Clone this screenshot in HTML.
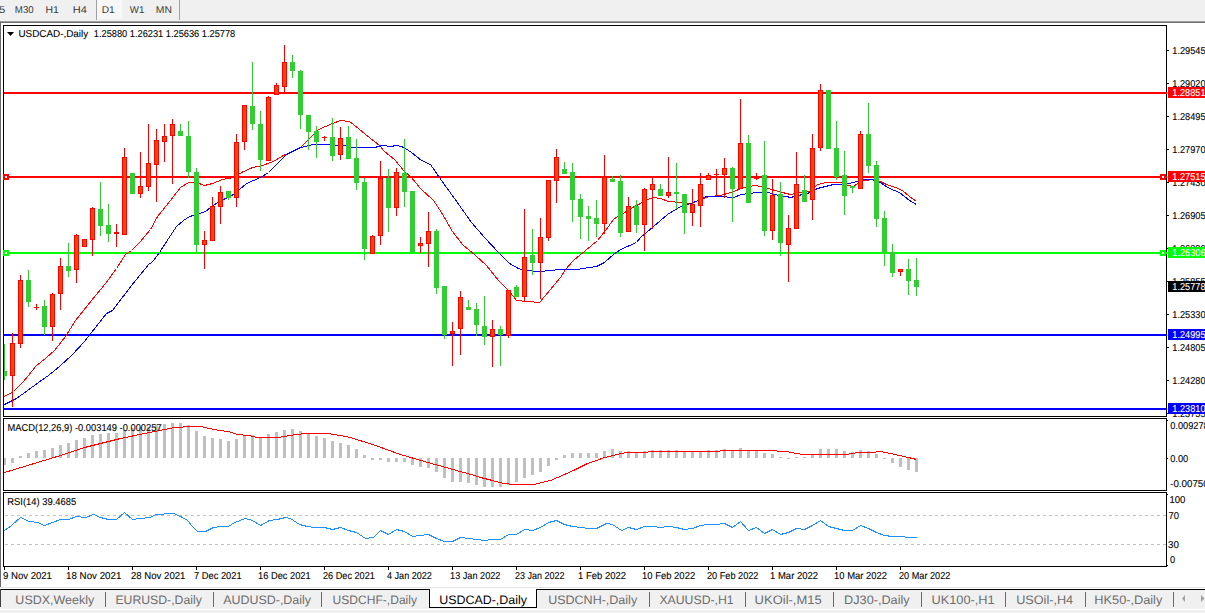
<!DOCTYPE html><html><head><meta charset="utf-8"><style>html,body{margin:0;padding:0;width:1205px;height:613px;overflow:hidden;background:#fff}svg{display:block}text{font-family:"Liberation Sans", sans-serif;text-rendering:geometricPrecision}</style></head><body>
<svg width="1205" height="613" viewBox="0 0 1205 613">
<rect x="0" y="0" width="1205" height="613" fill="#fff"/>
<rect x="0" y="0" width="1205" height="21" fill="#f0f0f0"/>
<rect x="0" y="21" width="1205" height="1" fill="#a0a0a0"/>
<rect x="0" y="22" width="1205" height="1" fill="#6d6d6d"/>
<rect x="97" y="0" width="25" height="19" fill="#f7f7f7"/>
<rect x="96" y="0" width="1" height="20" fill="#a0a0a0"/>
<rect x="179" y="0" width="1" height="20" fill="#a0a0a0"/>
<text x="14.83" y="13" font-size="10" fill="#3a3a3a" stroke="#3a3a3a" stroke-width="0" textLength="18.80" lengthAdjust="spacingAndGlyphs">M30</text>
<text x="45.45" y="13" font-size="10" fill="#3a3a3a" stroke="#3a3a3a" stroke-width="0" textLength="13.38" lengthAdjust="spacingAndGlyphs">H1</text>
<text x="72.80" y="13" font-size="10" fill="#3a3a3a" stroke="#3a3a3a" stroke-width="0" textLength="14.08" lengthAdjust="spacingAndGlyphs">H4</text>
<text x="101.78" y="13" font-size="10" fill="#3a3a3a" stroke="#3a3a3a" stroke-width="0" textLength="13.03" lengthAdjust="spacingAndGlyphs">D1</text>
<text x="129.80" y="13" font-size="10" fill="#3a3a3a" stroke="#3a3a3a" stroke-width="0" textLength="14.50" lengthAdjust="spacingAndGlyphs">W1</text>
<text x="155.76" y="13" font-size="10" fill="#3a3a3a" stroke="#3a3a3a" stroke-width="0" textLength="16.12" lengthAdjust="spacingAndGlyphs">MN</text>
<text x="-1.12" y="13" font-size="10" fill="#3a3a3a" stroke="#3a3a3a" stroke-width="0" textLength="6.26" lengthAdjust="spacingAndGlyphs">5</text>
<rect x="0" y="22" width="1" height="566" fill="#6a6a6a"/>
<defs><clipPath id="cm"><rect x="4" y="26" width="1162" height="390"/></clipPath><clipPath id="cd"><rect x="4" y="419" width="1162" height="71"/></clipPath><clipPath id="cr"><rect x="4" y="493" width="1162" height="73"/></clipPath></defs>
<g clip-path="url(#cm)">
<rect x="4" y="92" width="1163" height="2" fill="#ff0000"/>
<rect x="4" y="176" width="1163" height="2" fill="#ff0000"/>
<rect x="4" y="252" width="1163" height="2" fill="#00ff00"/>
<rect x="4" y="334" width="1163" height="2" fill="#0000ff"/>
<rect x="4" y="408" width="1163" height="2" fill="#0000ff"/>
<polyline points="4.5,396.5 13.5,391.5 23.5,381.5 36.5,365.5 45.5,358.5 54.5,350.5 65.5,336.5 75.5,320.5 91.5,300.5 105.5,283.5 116.5,268.5 125.5,254.5 131.5,250.5 140.5,241.5 150.5,229.5 157.5,216.5 170.5,200.5 180.5,187.5 188.5,182.5 196.5,182.5 204.5,185.5 212.5,183.5 222.5,179.5 233.5,177.5 241.5,172.5 252.5,167.5 262.5,165.5 273.5,161.5 283.5,155.5 300.5,147.5 309.5,138.5 318.5,129.5 332.5,123.5 340.5,120.5 349.5,121.5 358.5,128.5 365.5,134.5 374.5,141.5 379.5,145.5 384.5,151.5 394.5,159.5 404.5,171.5 411.5,177.5 420.5,188.5 433.5,200.5 441.5,212.5 452.5,231.5 462.5,244.5 475.5,255.5 486.5,265.5 498.5,280.5 509.5,291.5 516.5,300.5 539.5,302.5 560.5,277.5 565.5,269.5 573.5,260.5 585.5,250.5 597.5,240.5 605.5,230.5 613.5,219.5 617.5,216.5 626.5,211.5 632.5,207.5 640.5,203.5 647.5,199.5 653.5,197.5 660.5,198.5 668.5,201.5 680.5,202.5 690.5,203.5 698.5,200.5 709.5,196.5 720.5,195.5 730.5,192.5 744.5,187.5 754.5,185.5 760.5,186.5 768.5,188.5 778.5,191.5 790.5,194.5 801.5,192.5 810.5,191.5 817.5,184.5 826.5,182.5 841.5,182.5 848.5,185.5 853.5,186.5 857.5,183.5 864.5,180.5 874.5,179.5 880.5,181.5 886.5,184.5 895.5,187.5 902.5,190.5 909.5,196.5 916.5,201.5" fill="none" stroke="#ff0000" stroke-width="1" shape-rendering="crispEdges"/>
<polyline points="4.5,404.5 16.5,398.5 27.5,390.5 38.5,382.5 48.5,375.5 59.5,366.5 72.5,354.5 84.5,341.5 95.5,327.5 106.5,313.5 112.5,310.5 131.5,285.5 149.5,263.5 150.5,263.5 153.5,260.5 159.5,252.5 170.5,235.5 176.5,226.5 183.5,220.5 189.5,216.5 193.5,215.5 199.5,213.5 205.5,211.5 210.5,207.5 217.5,202.5 225.5,198.5 233.5,194.5 246.5,183.5 260.5,177.5 268.5,172.5 286.5,154.5 300.5,147.5 313.5,144.5 330.5,144.5 336.5,145.5 343.5,145.5 353.5,147.5 374.5,147.5 382.5,145.5 391.5,146.5 395.5,145.5 401.5,146.5 405.5,148.5 411.5,152.5 421.5,160.5 430.5,164.5 441.5,180.5 454.5,198.5 471.5,222.5 484.5,237.5 498.5,252.5 509.5,263.5 518.5,268.5 524.5,270.5 540.5,271.5 549.5,270.5 560.5,269.5 576.5,269.5 596.5,266.5 604.5,262.5 613.5,254.5 620.5,249.5 636.5,242.5 640.5,237.5 653.5,226.5 667.5,214.5 680.5,206.5 693.5,202.5 706.5,196.5 720.5,196.5 733.5,197.5 741.5,194.5 757.5,192.5 768.5,192.5 773.5,194.5 786.5,196.5 790.5,197.5 802.5,194.5 810.5,192.5 817.5,188.5 825.5,186.5 833.5,184.5 841.5,184.5 848.5,183.5 857.5,181.5 863.5,179.5 871.5,179.5 878.5,181.5 889.5,188.5 899.5,192.5 909.5,200.5 916.5,204.5" fill="none" stroke="#0000ff" stroke-width="1" shape-rendering="crispEdges"/>
<rect x="4" y="344" width="1" height="36" fill="#32cd32"/>
<rect x="2" y="371" width="5" height="5" fill="#32cd32"/>
<rect x="12" y="333" width="1" height="74" fill="#ff0000"/>
<rect x="10" y="343" width="5" height="33" fill="#ff0000"/>
<rect x="11" y="344" width="3" height="31" fill="#ff4500"/>
<rect x="20" y="275" width="1" height="73" fill="#ff0000"/>
<rect x="18" y="280" width="5" height="64" fill="#ff0000"/>
<rect x="19" y="281" width="3" height="62" fill="#ff4500"/>
<rect x="28" y="270" width="1" height="37" fill="#32cd32"/>
<rect x="26" y="280" width="5" height="22" fill="#32cd32"/>
<rect x="36" y="304" width="1" height="6" fill="#ff0000"/>
<rect x="34" y="307" width="5" height="1" fill="#ff0000"/>
<rect x="44" y="300" width="1" height="35" fill="#32cd32"/>
<rect x="42" y="306" width="5" height="21" fill="#32cd32"/>
<rect x="52" y="293" width="1" height="48" fill="#ff0000"/>
<rect x="50" y="294" width="5" height="33" fill="#ff0000"/>
<rect x="51" y="295" width="3" height="31" fill="#ff4500"/>
<rect x="60" y="258" width="1" height="52" fill="#ff0000"/>
<rect x="58" y="266" width="5" height="28" fill="#ff0000"/>
<rect x="59" y="267" width="3" height="26" fill="#ff4500"/>
<rect x="68" y="243" width="1" height="34" fill="#32cd32"/>
<rect x="66" y="266" width="5" height="5" fill="#32cd32"/>
<rect x="76" y="234" width="1" height="49" fill="#ff0000"/>
<rect x="74" y="235" width="5" height="35" fill="#ff0000"/>
<rect x="75" y="236" width="3" height="33" fill="#ff4500"/>
<rect x="84" y="239" width="1" height="8" fill="#ff0000"/>
<rect x="82" y="239" width="5" height="8" fill="#ff0000"/>
<rect x="83" y="240" width="3" height="6" fill="#ff4500"/>
<rect x="92" y="207" width="1" height="49" fill="#ff0000"/>
<rect x="90" y="208" width="5" height="32" fill="#ff0000"/>
<rect x="91" y="209" width="3" height="30" fill="#ff4500"/>
<rect x="100" y="182" width="1" height="54" fill="#32cd32"/>
<rect x="98" y="209" width="5" height="17" fill="#32cd32"/>
<rect x="108" y="204" width="1" height="38" fill="#32cd32"/>
<rect x="106" y="225" width="5" height="9" fill="#32cd32"/>
<rect x="116" y="224" width="1" height="23" fill="#ff0000"/>
<rect x="114" y="232" width="5" height="2" fill="#ff0000"/>
<rect x="124" y="148" width="1" height="87" fill="#ff0000"/>
<rect x="122" y="157" width="5" height="78" fill="#ff0000"/>
<rect x="123" y="158" width="3" height="76" fill="#ff4500"/>
<rect x="132" y="173" width="1" height="21" fill="#32cd32"/>
<rect x="130" y="173" width="5" height="21" fill="#32cd32"/>
<rect x="140" y="152" width="1" height="46" fill="#ff0000"/>
<rect x="138" y="186" width="5" height="8" fill="#ff0000"/>
<rect x="139" y="187" width="3" height="6" fill="#ff4500"/>
<rect x="148" y="124" width="1" height="67" fill="#ff0000"/>
<rect x="146" y="163" width="5" height="24" fill="#ff0000"/>
<rect x="147" y="164" width="3" height="22" fill="#ff4500"/>
<rect x="156" y="129" width="1" height="73" fill="#ff0000"/>
<rect x="154" y="140" width="5" height="25" fill="#ff0000"/>
<rect x="155" y="141" width="3" height="23" fill="#ff4500"/>
<rect x="164" y="124" width="1" height="38" fill="#ff0000"/>
<rect x="162" y="136" width="5" height="6" fill="#ff0000"/>
<rect x="163" y="137" width="3" height="4" fill="#ff4500"/>
<rect x="172" y="119" width="1" height="65" fill="#ff0000"/>
<rect x="170" y="124" width="5" height="12" fill="#ff0000"/>
<rect x="171" y="125" width="3" height="10" fill="#ff4500"/>
<rect x="180" y="124" width="1" height="12" fill="#32cd32"/>
<rect x="178" y="131" width="5" height="5" fill="#32cd32"/>
<rect x="188" y="121" width="1" height="57" fill="#32cd32"/>
<rect x="186" y="136" width="5" height="36" fill="#32cd32"/>
<rect x="196" y="168" width="1" height="85" fill="#32cd32"/>
<rect x="194" y="172" width="5" height="73" fill="#32cd32"/>
<rect x="204" y="231" width="1" height="38" fill="#ff0000"/>
<rect x="202" y="240" width="5" height="5" fill="#ff0000"/>
<rect x="203" y="241" width="3" height="3" fill="#ff4500"/>
<rect x="212" y="197" width="1" height="44" fill="#ff0000"/>
<rect x="210" y="206" width="5" height="35" fill="#ff0000"/>
<rect x="211" y="207" width="3" height="33" fill="#ff4500"/>
<rect x="220" y="186" width="1" height="38" fill="#ff0000"/>
<rect x="218" y="192" width="5" height="15" fill="#ff0000"/>
<rect x="219" y="193" width="3" height="13" fill="#ff4500"/>
<rect x="228" y="191" width="1" height="9" fill="#32cd32"/>
<rect x="226" y="191" width="5" height="7" fill="#32cd32"/>
<rect x="236" y="134" width="1" height="73" fill="#ff0000"/>
<rect x="234" y="142" width="5" height="56" fill="#ff0000"/>
<rect x="235" y="143" width="3" height="54" fill="#ff4500"/>
<rect x="244" y="105" width="1" height="45" fill="#ff0000"/>
<rect x="242" y="105" width="5" height="37" fill="#ff0000"/>
<rect x="243" y="106" width="3" height="35" fill="#ff4500"/>
<rect x="252" y="62" width="1" height="68" fill="#32cd32"/>
<rect x="250" y="106" width="5" height="18" fill="#32cd32"/>
<rect x="260" y="111" width="1" height="60" fill="#32cd32"/>
<rect x="258" y="124" width="5" height="36" fill="#32cd32"/>
<rect x="268" y="96" width="1" height="65" fill="#ff0000"/>
<rect x="266" y="97" width="5" height="64" fill="#ff0000"/>
<rect x="267" y="98" width="3" height="62" fill="#ff4500"/>
<rect x="276" y="83" width="1" height="12" fill="#ff0000"/>
<rect x="274" y="85" width="5" height="10" fill="#ff0000"/>
<rect x="275" y="86" width="3" height="8" fill="#ff4500"/>
<rect x="284" y="45" width="1" height="47" fill="#ff0000"/>
<rect x="282" y="62" width="5" height="25" fill="#ff0000"/>
<rect x="283" y="63" width="3" height="23" fill="#ff4500"/>
<rect x="292" y="55" width="1" height="23" fill="#32cd32"/>
<rect x="290" y="62" width="5" height="9" fill="#32cd32"/>
<rect x="300" y="70" width="1" height="59" fill="#32cd32"/>
<rect x="298" y="71" width="5" height="44" fill="#32cd32"/>
<rect x="308" y="115" width="1" height="35" fill="#32cd32"/>
<rect x="306" y="115" width="5" height="17" fill="#32cd32"/>
<rect x="316" y="126" width="1" height="32" fill="#32cd32"/>
<rect x="314" y="131" width="5" height="11" fill="#32cd32"/>
<rect x="324" y="136" width="1" height="5" fill="#ff0000"/>
<rect x="322" y="137" width="5" height="1" fill="#ff0000"/>
<rect x="332" y="118" width="1" height="43" fill="#32cd32"/>
<rect x="330" y="137" width="5" height="19" fill="#32cd32"/>
<rect x="340" y="127" width="1" height="33" fill="#ff0000"/>
<rect x="338" y="138" width="5" height="17" fill="#ff0000"/>
<rect x="339" y="139" width="3" height="15" fill="#ff4500"/>
<rect x="348" y="126" width="1" height="33" fill="#32cd32"/>
<rect x="346" y="137" width="5" height="22" fill="#32cd32"/>
<rect x="356" y="139" width="1" height="51" fill="#32cd32"/>
<rect x="354" y="158" width="5" height="25" fill="#32cd32"/>
<rect x="364" y="178" width="1" height="82" fill="#32cd32"/>
<rect x="362" y="182" width="5" height="67" fill="#32cd32"/>
<rect x="372" y="235" width="1" height="19" fill="#ff0000"/>
<rect x="370" y="236" width="5" height="18" fill="#ff0000"/>
<rect x="371" y="237" width="3" height="16" fill="#ff4500"/>
<rect x="380" y="161" width="1" height="84" fill="#ff0000"/>
<rect x="378" y="178" width="5" height="58" fill="#ff0000"/>
<rect x="379" y="179" width="3" height="56" fill="#ff4500"/>
<rect x="388" y="169" width="1" height="63" fill="#32cd32"/>
<rect x="386" y="178" width="5" height="30" fill="#32cd32"/>
<rect x="396" y="168" width="1" height="48" fill="#ff0000"/>
<rect x="394" y="172" width="5" height="36" fill="#ff0000"/>
<rect x="395" y="173" width="3" height="34" fill="#ff4500"/>
<rect x="404" y="139" width="1" height="68" fill="#32cd32"/>
<rect x="402" y="173" width="5" height="19" fill="#32cd32"/>
<rect x="412" y="191" width="1" height="61" fill="#32cd32"/>
<rect x="410" y="191" width="5" height="61" fill="#32cd32"/>
<rect x="420" y="237" width="1" height="16" fill="#ff0000"/>
<rect x="418" y="243" width="5" height="3" fill="#ff0000"/>
<rect x="419" y="244" width="3" height="1" fill="#ff4500"/>
<rect x="428" y="212" width="1" height="55" fill="#ff0000"/>
<rect x="426" y="231" width="5" height="13" fill="#ff0000"/>
<rect x="427" y="232" width="3" height="11" fill="#ff4500"/>
<rect x="436" y="229" width="1" height="65" fill="#32cd32"/>
<rect x="434" y="231" width="5" height="57" fill="#32cd32"/>
<rect x="444" y="286" width="1" height="53" fill="#32cd32"/>
<rect x="442" y="286" width="5" height="49" fill="#32cd32"/>
<rect x="452" y="322" width="1" height="44" fill="#ff0000"/>
<rect x="450" y="331" width="5" height="3" fill="#ff0000"/>
<rect x="451" y="332" width="3" height="1" fill="#ff4500"/>
<rect x="460" y="291" width="1" height="64" fill="#ff0000"/>
<rect x="458" y="297" width="5" height="32" fill="#ff0000"/>
<rect x="459" y="298" width="3" height="30" fill="#ff4500"/>
<rect x="468" y="300" width="1" height="10" fill="#32cd32"/>
<rect x="466" y="307" width="5" height="3" fill="#32cd32"/>
<rect x="476" y="303" width="1" height="33" fill="#32cd32"/>
<rect x="474" y="309" width="5" height="16" fill="#32cd32"/>
<rect x="484" y="296" width="1" height="49" fill="#32cd32"/>
<rect x="482" y="326" width="5" height="11" fill="#32cd32"/>
<rect x="492" y="320" width="1" height="47" fill="#ff0000"/>
<rect x="490" y="329" width="5" height="8" fill="#ff0000"/>
<rect x="491" y="330" width="3" height="6" fill="#ff4500"/>
<rect x="500" y="326" width="1" height="40" fill="#32cd32"/>
<rect x="498" y="329" width="5" height="6" fill="#32cd32"/>
<rect x="508" y="290" width="1" height="48" fill="#ff0000"/>
<rect x="506" y="290" width="5" height="46" fill="#ff0000"/>
<rect x="507" y="291" width="3" height="44" fill="#ff4500"/>
<rect x="516" y="285" width="1" height="12" fill="#32cd32"/>
<rect x="514" y="287" width="5" height="10" fill="#32cd32"/>
<rect x="524" y="209" width="1" height="93" fill="#ff0000"/>
<rect x="522" y="257" width="5" height="40" fill="#ff0000"/>
<rect x="523" y="258" width="3" height="38" fill="#ff4500"/>
<rect x="532" y="229" width="1" height="46" fill="#32cd32"/>
<rect x="530" y="255" width="5" height="8" fill="#32cd32"/>
<rect x="540" y="218" width="1" height="81" fill="#ff0000"/>
<rect x="538" y="237" width="5" height="26" fill="#ff0000"/>
<rect x="539" y="238" width="3" height="24" fill="#ff4500"/>
<rect x="548" y="180" width="1" height="61" fill="#ff0000"/>
<rect x="546" y="180" width="5" height="58" fill="#ff0000"/>
<rect x="547" y="181" width="3" height="56" fill="#ff4500"/>
<rect x="556" y="149" width="1" height="54" fill="#ff0000"/>
<rect x="554" y="157" width="5" height="24" fill="#ff0000"/>
<rect x="555" y="158" width="3" height="22" fill="#ff4500"/>
<rect x="564" y="162" width="1" height="12" fill="#32cd32"/>
<rect x="562" y="169" width="5" height="5" fill="#32cd32"/>
<rect x="572" y="163" width="1" height="59" fill="#32cd32"/>
<rect x="570" y="172" width="5" height="28" fill="#32cd32"/>
<rect x="580" y="194" width="1" height="45" fill="#32cd32"/>
<rect x="578" y="199" width="5" height="18" fill="#32cd32"/>
<rect x="588" y="206" width="1" height="35" fill="#32cd32"/>
<rect x="586" y="216" width="5" height="3" fill="#32cd32"/>
<rect x="596" y="200" width="1" height="37" fill="#32cd32"/>
<rect x="594" y="218" width="5" height="6" fill="#32cd32"/>
<rect x="604" y="155" width="1" height="79" fill="#ff0000"/>
<rect x="602" y="177" width="5" height="47" fill="#ff0000"/>
<rect x="603" y="178" width="3" height="45" fill="#ff4500"/>
<rect x="612" y="176" width="1" height="6" fill="#32cd32"/>
<rect x="610" y="179" width="5" height="3" fill="#32cd32"/>
<rect x="620" y="175" width="1" height="62" fill="#32cd32"/>
<rect x="618" y="181" width="5" height="52" fill="#32cd32"/>
<rect x="628" y="197" width="1" height="35" fill="#ff0000"/>
<rect x="626" y="206" width="5" height="26" fill="#ff0000"/>
<rect x="627" y="207" width="3" height="24" fill="#ff4500"/>
<rect x="636" y="200" width="1" height="33" fill="#32cd32"/>
<rect x="634" y="206" width="5" height="19" fill="#32cd32"/>
<rect x="644" y="188" width="1" height="63" fill="#ff0000"/>
<rect x="642" y="189" width="5" height="36" fill="#ff0000"/>
<rect x="643" y="190" width="3" height="34" fill="#ff4500"/>
<rect x="652" y="178" width="1" height="51" fill="#ff0000"/>
<rect x="650" y="184" width="5" height="6" fill="#ff0000"/>
<rect x="651" y="185" width="3" height="4" fill="#ff4500"/>
<rect x="660" y="184" width="1" height="12" fill="#32cd32"/>
<rect x="658" y="189" width="5" height="7" fill="#32cd32"/>
<rect x="668" y="157" width="1" height="41" fill="#ff0000"/>
<rect x="666" y="192" width="5" height="4" fill="#ff0000"/>
<rect x="667" y="193" width="3" height="2" fill="#ff4500"/>
<rect x="676" y="163" width="1" height="46" fill="#32cd32"/>
<rect x="674" y="192" width="5" height="2" fill="#32cd32"/>
<rect x="684" y="194" width="1" height="40" fill="#32cd32"/>
<rect x="682" y="194" width="5" height="19" fill="#32cd32"/>
<rect x="692" y="189" width="1" height="37" fill="#ff0000"/>
<rect x="690" y="204" width="5" height="9" fill="#ff0000"/>
<rect x="691" y="205" width="3" height="7" fill="#ff4500"/>
<rect x="700" y="173" width="1" height="54" fill="#ff0000"/>
<rect x="698" y="184" width="5" height="22" fill="#ff0000"/>
<rect x="699" y="185" width="3" height="20" fill="#ff4500"/>
<rect x="708" y="173" width="1" height="7" fill="#ff0000"/>
<rect x="706" y="175" width="5" height="5" fill="#ff0000"/>
<rect x="707" y="176" width="3" height="3" fill="#ff4500"/>
<rect x="716" y="169" width="1" height="27" fill="#ff0000"/>
<rect x="714" y="174" width="5" height="1" fill="#ff0000"/>
<rect x="724" y="158" width="1" height="40" fill="#ff0000"/>
<rect x="722" y="168" width="5" height="7" fill="#ff0000"/>
<rect x="723" y="169" width="3" height="5" fill="#ff4500"/>
<rect x="732" y="167" width="1" height="55" fill="#32cd32"/>
<rect x="730" y="168" width="5" height="21" fill="#32cd32"/>
<rect x="740" y="99" width="1" height="90" fill="#ff0000"/>
<rect x="738" y="143" width="5" height="46" fill="#ff0000"/>
<rect x="739" y="144" width="3" height="44" fill="#ff4500"/>
<rect x="748" y="135" width="1" height="68" fill="#32cd32"/>
<rect x="746" y="143" width="5" height="60" fill="#32cd32"/>
<rect x="756" y="173" width="1" height="7" fill="#ff0000"/>
<rect x="754" y="177" width="5" height="2" fill="#ff0000"/>
<rect x="764" y="141" width="1" height="95" fill="#32cd32"/>
<rect x="762" y="175" width="5" height="56" fill="#32cd32"/>
<rect x="772" y="179" width="1" height="61" fill="#ff0000"/>
<rect x="770" y="195" width="5" height="36" fill="#ff0000"/>
<rect x="771" y="196" width="3" height="34" fill="#ff4500"/>
<rect x="780" y="182" width="1" height="74" fill="#32cd32"/>
<rect x="778" y="194" width="5" height="49" fill="#32cd32"/>
<rect x="788" y="215" width="1" height="67" fill="#ff0000"/>
<rect x="786" y="228" width="5" height="17" fill="#ff0000"/>
<rect x="787" y="229" width="3" height="15" fill="#ff4500"/>
<rect x="796" y="152" width="1" height="77" fill="#ff0000"/>
<rect x="794" y="184" width="5" height="45" fill="#ff0000"/>
<rect x="795" y="185" width="3" height="43" fill="#ff4500"/>
<rect x="804" y="175" width="1" height="27" fill="#32cd32"/>
<rect x="802" y="190" width="5" height="12" fill="#32cd32"/>
<rect x="812" y="134" width="1" height="86" fill="#ff0000"/>
<rect x="810" y="148" width="5" height="52" fill="#ff0000"/>
<rect x="811" y="149" width="3" height="50" fill="#ff4500"/>
<rect x="820" y="84" width="1" height="67" fill="#ff0000"/>
<rect x="818" y="90" width="5" height="58" fill="#ff0000"/>
<rect x="819" y="91" width="3" height="56" fill="#ff4500"/>
<rect x="828" y="90" width="1" height="59" fill="#32cd32"/>
<rect x="826" y="90" width="5" height="59" fill="#32cd32"/>
<rect x="836" y="121" width="1" height="59" fill="#32cd32"/>
<rect x="834" y="148" width="5" height="29" fill="#32cd32"/>
<rect x="844" y="151" width="1" height="64" fill="#32cd32"/>
<rect x="842" y="175" width="5" height="21" fill="#32cd32"/>
<rect x="852" y="186" width="1" height="7" fill="#32cd32"/>
<rect x="850" y="186" width="5" height="2" fill="#32cd32"/>
<rect x="860" y="131" width="1" height="58" fill="#ff0000"/>
<rect x="858" y="134" width="5" height="55" fill="#ff0000"/>
<rect x="859" y="135" width="3" height="53" fill="#ff4500"/>
<rect x="868" y="103" width="1" height="70" fill="#32cd32"/>
<rect x="866" y="134" width="5" height="32" fill="#32cd32"/>
<rect x="876" y="161" width="1" height="66" fill="#32cd32"/>
<rect x="874" y="165" width="5" height="54" fill="#32cd32"/>
<rect x="884" y="211" width="1" height="55" fill="#32cd32"/>
<rect x="882" y="218" width="5" height="34" fill="#32cd32"/>
<rect x="892" y="244" width="1" height="33" fill="#32cd32"/>
<rect x="890" y="252" width="5" height="21" fill="#32cd32"/>
<rect x="900" y="269" width="1" height="7" fill="#ff0000"/>
<rect x="898" y="269" width="5" height="3" fill="#ff0000"/>
<rect x="899" y="270" width="3" height="1" fill="#ff4500"/>
<rect x="908" y="259" width="1" height="36" fill="#32cd32"/>
<rect x="906" y="269" width="5" height="12" fill="#32cd32"/>
<rect x="916" y="258" width="1" height="38" fill="#32cd32"/>
<rect x="914" y="280" width="5" height="7" fill="#32cd32"/>
</g>
<rect x="3" y="25" width="1164" height="1" fill="#000"/>
<rect x="3" y="416" width="1164" height="1" fill="#000"/>
<rect x="3" y="25" width="1" height="392" fill="#000"/>
<rect x="1166" y="25" width="1" height="392" fill="#000"/>
<rect x="1166" y="92" width="1" height="2" fill="#ff0000"/>
<rect x="1166" y="176" width="1" height="2" fill="#ff0000"/>
<rect x="1166" y="252" width="1" height="2" fill="#00ff00"/>
<rect x="1166" y="334" width="1" height="2" fill="#0000ff"/>
<rect x="1166" y="408" width="1" height="2" fill="#0000ff"/>
<rect x="3" y="174" width="6" height="6" fill="#ff0000"/>
<rect x="5" y="176" width="2" height="2" fill="#fff"/>
<rect x="1160" y="174" width="6" height="6" fill="#ff0000"/>
<rect x="1162" y="176" width="2" height="2" fill="#fff"/>
<rect x="3" y="250" width="6" height="6" fill="#00ff00"/>
<rect x="5" y="252" width="2" height="2" fill="#fff"/>
<rect x="1160" y="250" width="6" height="6" fill="#00ff00"/>
<rect x="1162" y="252" width="2" height="2" fill="#fff"/>
<path d="M7 32 L14 32 L10.5 36 Z" fill="#000"/>
<text x="18.41" y="37" font-size="10" fill="#000" stroke="#000" stroke-width="0.1" textLength="69.74" lengthAdjust="spacingAndGlyphs">USDCAD-,Daily</text>
<text x="93.77" y="37" font-size="10" fill="#000" stroke="#000" stroke-width="0.1" textLength="141.49" lengthAdjust="spacingAndGlyphs">1.25880 1.26231 1.25636 1.25778</text>
<rect x="1167" y="50" width="2" height="1" fill="#000"/>
<text x="1172.3" y="54" font-size="10" fill="#000" stroke="#000" stroke-width="0.1" textLength="33.2" lengthAdjust="spacingAndGlyphs">1.29545</text>
<rect x="1167" y="83" width="2" height="1" fill="#000"/>
<text x="1172.3" y="87" font-size="10" fill="#000" stroke="#000" stroke-width="0.1" textLength="33.2" lengthAdjust="spacingAndGlyphs">1.29020</text>
<rect x="1167" y="116" width="2" height="1" fill="#000"/>
<text x="1172.3" y="120" font-size="10" fill="#000" stroke="#000" stroke-width="0.1" textLength="33.2" lengthAdjust="spacingAndGlyphs">1.28495</text>
<rect x="1167" y="149" width="2" height="1" fill="#000"/>
<text x="1172.3" y="153" font-size="10" fill="#000" stroke="#000" stroke-width="0.1" textLength="33.2" lengthAdjust="spacingAndGlyphs">1.27970</text>
<rect x="1167" y="182" width="2" height="1" fill="#000"/>
<text x="1172.3" y="186" font-size="10" fill="#000" stroke="#000" stroke-width="0.1" textLength="33.2" lengthAdjust="spacingAndGlyphs">1.27430</text>
<rect x="1167" y="215" width="2" height="1" fill="#000"/>
<text x="1172.3" y="219" font-size="10" fill="#000" stroke="#000" stroke-width="0.1" textLength="33.2" lengthAdjust="spacingAndGlyphs">1.26905</text>
<rect x="1167" y="248" width="2" height="1" fill="#000"/>
<text x="1172.3" y="252" font-size="10" fill="#000" stroke="#000" stroke-width="0.1" textLength="33.2" lengthAdjust="spacingAndGlyphs">1.26380</text>
<rect x="1167" y="281" width="2" height="1" fill="#000"/>
<text x="1172.3" y="285" font-size="10" fill="#000" stroke="#000" stroke-width="0.1" textLength="33.2" lengthAdjust="spacingAndGlyphs">1.25855</text>
<rect x="1167" y="314" width="2" height="1" fill="#000"/>
<text x="1172.3" y="318" font-size="10" fill="#000" stroke="#000" stroke-width="0.1" textLength="33.2" lengthAdjust="spacingAndGlyphs">1.25330</text>
<rect x="1167" y="347" width="2" height="1" fill="#000"/>
<text x="1172.3" y="351" font-size="10" fill="#000" stroke="#000" stroke-width="0.1" textLength="33.2" lengthAdjust="spacingAndGlyphs">1.24805</text>
<rect x="1167" y="380" width="2" height="1" fill="#000"/>
<text x="1172.3" y="384" font-size="10" fill="#000" stroke="#000" stroke-width="0.1" textLength="33.2" lengthAdjust="spacingAndGlyphs">1.24280</text>
<rect x="1167" y="413" width="2" height="1" fill="#000"/>
<text x="1172.3" y="417" font-size="10" fill="#000" stroke="#000" stroke-width="0.1" textLength="33.2" lengthAdjust="spacingAndGlyphs">1.23755</text>
<rect x="1168" y="87" width="37" height="11" fill="#ff0000"/>
<text x="1172.3" y="96" font-size="10" fill="#fff" stroke="#fff" stroke-width="0.1" textLength="33.2" lengthAdjust="spacingAndGlyphs">1.28851</text>
<rect x="1168" y="171" width="37" height="11" fill="#ff0000"/>
<text x="1172.3" y="180" font-size="10" fill="#fff" stroke="#fff" stroke-width="0.1" textLength="33.2" lengthAdjust="spacingAndGlyphs">1.27515</text>
<rect x="1168" y="247" width="37" height="11" fill="#00ff00"/>
<text x="1172.3" y="256" font-size="10" fill="#fff" stroke="#fff" stroke-width="0.1" textLength="33.2" lengthAdjust="spacingAndGlyphs">1.26306</text>
<rect x="1168" y="329" width="37" height="11" fill="#0000ff"/>
<text x="1172.3" y="338" font-size="10" fill="#fff" stroke="#fff" stroke-width="0.1" textLength="33.2" lengthAdjust="spacingAndGlyphs">1.24995</text>
<rect x="1168" y="403" width="37" height="11" fill="#0000ff"/>
<text x="1172.3" y="412" font-size="10" fill="#fff" stroke="#fff" stroke-width="0.1" textLength="33.2" lengthAdjust="spacingAndGlyphs">1.23810</text>
<rect x="1168" y="281" width="37" height="11" fill="#000"/>
<text x="1172.3" y="290" font-size="10" fill="#fff" stroke="#fff" stroke-width="0.1" textLength="33.2" lengthAdjust="spacingAndGlyphs">1.25778</text>
<g clip-path="url(#cd)">
<rect x="3" y="458" width="3" height="7" fill="#c0c0c0"/>
<rect x="11" y="458" width="3" height="5" fill="#c0c0c0"/>
<rect x="19" y="456" width="3" height="2" fill="#c0c0c0"/>
<rect x="27" y="453" width="3" height="5" fill="#c0c0c0"/>
<rect x="35" y="451" width="3" height="7" fill="#c0c0c0"/>
<rect x="43" y="450" width="3" height="8" fill="#c0c0c0"/>
<rect x="51" y="448" width="3" height="10" fill="#c0c0c0"/>
<rect x="59" y="445" width="3" height="13" fill="#c0c0c0"/>
<rect x="67" y="443" width="3" height="15" fill="#c0c0c0"/>
<rect x="75" y="440" width="3" height="18" fill="#c0c0c0"/>
<rect x="83" y="438" width="3" height="20" fill="#c0c0c0"/>
<rect x="91" y="435" width="3" height="23" fill="#c0c0c0"/>
<rect x="99" y="434" width="3" height="24" fill="#c0c0c0"/>
<rect x="107" y="433" width="3" height="25" fill="#c0c0c0"/>
<rect x="115" y="433" width="3" height="25" fill="#c0c0c0"/>
<rect x="123" y="430" width="3" height="28" fill="#c0c0c0"/>
<rect x="131" y="428" width="3" height="30" fill="#c0c0c0"/>
<rect x="139" y="427" width="3" height="31" fill="#c0c0c0"/>
<rect x="147" y="427" width="3" height="31" fill="#c0c0c0"/>
<rect x="155" y="425" width="3" height="33" fill="#c0c0c0"/>
<rect x="163" y="424" width="3" height="34" fill="#c0c0c0"/>
<rect x="171" y="423" width="3" height="35" fill="#c0c0c0"/>
<rect x="179" y="423" width="3" height="35" fill="#c0c0c0"/>
<rect x="187" y="425" width="3" height="33" fill="#c0c0c0"/>
<rect x="195" y="431" width="3" height="27" fill="#c0c0c0"/>
<rect x="203" y="436" width="3" height="22" fill="#c0c0c0"/>
<rect x="211" y="438" width="3" height="20" fill="#c0c0c0"/>
<rect x="219" y="439" width="3" height="19" fill="#c0c0c0"/>
<rect x="227" y="441" width="3" height="17" fill="#c0c0c0"/>
<rect x="235" y="439" width="3" height="19" fill="#c0c0c0"/>
<rect x="243" y="436" width="3" height="22" fill="#c0c0c0"/>
<rect x="251" y="435" width="3" height="23" fill="#c0c0c0"/>
<rect x="259" y="437" width="3" height="21" fill="#c0c0c0"/>
<rect x="267" y="434" width="3" height="24" fill="#c0c0c0"/>
<rect x="275" y="432" width="3" height="26" fill="#c0c0c0"/>
<rect x="283" y="430" width="3" height="28" fill="#c0c0c0"/>
<rect x="291" y="429" width="3" height="29" fill="#c0c0c0"/>
<rect x="299" y="431" width="3" height="27" fill="#c0c0c0"/>
<rect x="307" y="434" width="3" height="24" fill="#c0c0c0"/>
<rect x="315" y="436" width="3" height="22" fill="#c0c0c0"/>
<rect x="323" y="438" width="3" height="20" fill="#c0c0c0"/>
<rect x="331" y="441" width="3" height="17" fill="#c0c0c0"/>
<rect x="339" y="443" width="3" height="15" fill="#c0c0c0"/>
<rect x="347" y="445" width="3" height="13" fill="#c0c0c0"/>
<rect x="355" y="449" width="3" height="9" fill="#c0c0c0"/>
<rect x="363" y="455" width="3" height="3" fill="#c0c0c0"/>
<rect x="371" y="458" width="3" height="2" fill="#c0c0c0"/>
<rect x="379" y="458" width="3" height="2" fill="#c0c0c0"/>
<rect x="387" y="458" width="3" height="4" fill="#c0c0c0"/>
<rect x="395" y="458" width="3" height="4" fill="#c0c0c0"/>
<rect x="403" y="458" width="3" height="4" fill="#c0c0c0"/>
<rect x="411" y="458" width="3" height="7" fill="#c0c0c0"/>
<rect x="419" y="458" width="3" height="9" fill="#c0c0c0"/>
<rect x="427" y="458" width="3" height="10" fill="#c0c0c0"/>
<rect x="435" y="458" width="3" height="14" fill="#c0c0c0"/>
<rect x="443" y="458" width="3" height="20" fill="#c0c0c0"/>
<rect x="451" y="458" width="3" height="24" fill="#c0c0c0"/>
<rect x="459" y="458" width="3" height="24" fill="#c0c0c0"/>
<rect x="467" y="458" width="3" height="25" fill="#c0c0c0"/>
<rect x="475" y="458" width="3" height="27" fill="#c0c0c0"/>
<rect x="483" y="458" width="3" height="29" fill="#c0c0c0"/>
<rect x="491" y="458" width="3" height="29" fill="#c0c0c0"/>
<rect x="499" y="458" width="3" height="29" fill="#c0c0c0"/>
<rect x="507" y="458" width="3" height="27" fill="#c0c0c0"/>
<rect x="515" y="458" width="3" height="24" fill="#c0c0c0"/>
<rect x="523" y="458" width="3" height="20" fill="#c0c0c0"/>
<rect x="531" y="458" width="3" height="17" fill="#c0c0c0"/>
<rect x="539" y="458" width="3" height="14" fill="#c0c0c0"/>
<rect x="547" y="458" width="3" height="8" fill="#c0c0c0"/>
<rect x="555" y="458" width="3" height="2" fill="#c0c0c0"/>
<rect x="563" y="455" width="3" height="3" fill="#c0c0c0"/>
<rect x="571" y="453" width="3" height="5" fill="#c0c0c0"/>
<rect x="579" y="453" width="3" height="5" fill="#c0c0c0"/>
<rect x="587" y="453" width="3" height="5" fill="#c0c0c0"/>
<rect x="595" y="453" width="3" height="5" fill="#c0c0c0"/>
<rect x="603" y="451" width="3" height="7" fill="#c0c0c0"/>
<rect x="611" y="449" width="3" height="9" fill="#c0c0c0"/>
<rect x="619" y="451" width="3" height="7" fill="#c0c0c0"/>
<rect x="627" y="451" width="3" height="7" fill="#c0c0c0"/>
<rect x="635" y="453" width="3" height="5" fill="#c0c0c0"/>
<rect x="643" y="451" width="3" height="7" fill="#c0c0c0"/>
<rect x="651" y="450" width="3" height="8" fill="#c0c0c0"/>
<rect x="659" y="450" width="3" height="8" fill="#c0c0c0"/>
<rect x="667" y="450" width="3" height="8" fill="#c0c0c0"/>
<rect x="675" y="450" width="3" height="8" fill="#c0c0c0"/>
<rect x="683" y="451" width="3" height="7" fill="#c0c0c0"/>
<rect x="691" y="451" width="3" height="7" fill="#c0c0c0"/>
<rect x="699" y="451" width="3" height="7" fill="#c0c0c0"/>
<rect x="707" y="450" width="3" height="8" fill="#c0c0c0"/>
<rect x="715" y="450" width="3" height="8" fill="#c0c0c0"/>
<rect x="723" y="449" width="3" height="9" fill="#c0c0c0"/>
<rect x="731" y="450" width="3" height="8" fill="#c0c0c0"/>
<rect x="739" y="448" width="3" height="10" fill="#c0c0c0"/>
<rect x="747" y="450" width="3" height="8" fill="#c0c0c0"/>
<rect x="755" y="450" width="3" height="8" fill="#c0c0c0"/>
<rect x="763" y="453" width="3" height="5" fill="#c0c0c0"/>
<rect x="771" y="454" width="3" height="4" fill="#c0c0c0"/>
<rect x="779" y="457" width="3" height="1" fill="#c0c0c0"/>
<rect x="787" y="458" width="3" height="1" fill="#c0c0c0"/>
<rect x="795" y="457" width="3" height="1" fill="#c0c0c0"/>
<rect x="803" y="457" width="3" height="1" fill="#c0c0c0"/>
<rect x="811" y="455" width="3" height="3" fill="#c0c0c0"/>
<rect x="819" y="449" width="3" height="9" fill="#c0c0c0"/>
<rect x="827" y="449" width="3" height="9" fill="#c0c0c0"/>
<rect x="835" y="449" width="3" height="9" fill="#c0c0c0"/>
<rect x="843" y="451" width="3" height="7" fill="#c0c0c0"/>
<rect x="851" y="452" width="3" height="6" fill="#c0c0c0"/>
<rect x="859" y="450" width="3" height="8" fill="#c0c0c0"/>
<rect x="867" y="451" width="3" height="7" fill="#c0c0c0"/>
<rect x="875" y="454" width="3" height="4" fill="#c0c0c0"/>
<rect x="883" y="458" width="3" height="1" fill="#c0c0c0"/>
<rect x="891" y="458" width="3" height="5" fill="#c0c0c0"/>
<rect x="899" y="458" width="3" height="9" fill="#c0c0c0"/>
<rect x="907" y="458" width="3" height="12" fill="#c0c0c0"/>
<rect x="915" y="458" width="3" height="14" fill="#c0c0c0"/>
<polyline points="4.5,472.5 14.5,469.5 37.5,462.5 60.5,455.5 84.5,447.5 100.5,443.5 120.5,438.5 149.5,432.5 174.5,427.5 180.5,427.5 185.5,426.5 200.5,426.5 209.5,428.5 219.5,430.5 228.5,431.5 237.5,434.5 248.5,435.5 257.5,437.5 278.5,437.5 289.5,435.5 305.5,433.5 327.5,433.5 340.5,435.5 350.5,437.5 375.5,445.5 400.5,454.5 424.5,461.5 449.5,468.5 474.5,475.5 480.5,477.5 492.5,480.5 503.5,483.5 514.5,484.5 533.5,484.5 550.5,480.5 564.5,474.5 573.5,470.5 587.5,463.5 596.5,460.5 604.5,457.5 613.5,455.5 620.5,453.5 623.5,453.5 624.5,452.5 647.5,452.5 648.5,451.5 719.5,451.5 720.5,450.5 776.5,450.5 777.5,451.5 786.5,451.5 791.5,452.5 802.5,454.5 846.5,454.5 857.5,452.5 871.5,452.5 880.5,451.5 890.5,453.5 908.5,457.5 916.5,459.5" fill="none" stroke="#ff0000" stroke-width="1" shape-rendering="crispEdges"/>
</g>
<rect x="3" y="418" width="1164" height="1" fill="#000"/>
<rect x="3" y="490" width="1164" height="1" fill="#000"/>
<rect x="3" y="418" width="1" height="73" fill="#000"/>
<rect x="1166" y="418" width="1" height="73" fill="#000"/>
<text x="7.57" y="431" font-size="10" fill="#000" stroke="#000" stroke-width="0.1" textLength="154.03" lengthAdjust="spacingAndGlyphs">MACD(12,26,9) -0.003149 -0.000257</text>
<rect x="1167" y="458" width="1" height="1" fill="#000"/>
<rect x="1167" y="420" width="1" height="1" fill="#000"/>
<text x="1170.2" y="429" font-size="10" fill="#000" stroke="#000" stroke-width="0.1" textLength="38.5" lengthAdjust="spacingAndGlyphs">0.009278</text>
<text x="1170.20" y="462" font-size="10" fill="#000" stroke="#000" stroke-width="0.1" textLength="18.03" lengthAdjust="spacingAndGlyphs">0.00</text>
<text x="1170.2" y="487" font-size="10" fill="#000" stroke="#000" stroke-width="0.1" textLength="38.5" lengthAdjust="spacingAndGlyphs">-0.00750</text>
<g clip-path="url(#cr)">
<line x1="5" y1="515.5" x2="1166" y2="515.5" stroke="#c0c0c0" stroke-width="1" stroke-dasharray="3,3"/>
<line x1="5" y1="544.5" x2="1166" y2="544.5" stroke="#c0c0c0" stroke-width="1" stroke-dasharray="3,3"/>
<polyline points="4.5,530.5 11.5,525.5 20.5,517.5 29.5,521.5 37.5,522.5 44.5,525.5 52.5,522.5 60.5,519.5 68.5,519.5 76.5,516.5 85.5,517.5 93.5,514.5 100.5,517.5 108.5,519.5 116.5,519.5 124.5,512.5 132.5,519.5 140.5,518.5 149.5,517.5 156.5,514.5 160.5,514.5 168.5,513.5 173.5,513.5 180.5,516.5 187.5,520.5 192.5,526.5 197.5,531.5 205.5,531.5 213.5,527.5 220.5,526.5 228.5,526.5 234.5,522.5 245.5,518.5 252.5,520.5 260.5,525.5 269.5,520.5 277.5,519.5 285.5,517.5 290.5,518.5 299.5,524.5 307.5,526.5 314.5,527.5 324.5,527.5 332.5,529.5 340.5,527.5 348.5,530.5 356.5,532.5 365.5,538.5 373.5,537.5 380.5,530.5 388.5,534.5 396.5,529.5 404.5,531.5 412.5,536.5 420.5,535.5 428.5,534.5 436.5,538.5 444.5,541.5 452.5,541.5 460.5,537.5 468.5,538.5 476.5,539.5 484.5,540.5 492.5,539.5 500.5,539.5 508.5,534.5 516.5,534.5 524.5,529.5 532.5,530.5 540.5,527.5 548.5,522.5 556.5,520.5 564.5,524.5 572.5,526.5 580.5,527.5 588.5,528.5 596.5,528.5 606.5,523.5 612.5,524.5 621.5,530.5 628.5,527.5 636.5,529.5 644.5,526.5 652.5,526.5 660.5,527.5 668.5,526.5 676.5,527.5 684.5,529.5 692.5,528.5 700.5,525.5 708.5,524.5 716.5,524.5 724.5,523.5 732.5,527.5 740.5,521.5 748.5,530.5 756.5,527.5 764.5,533.5 772.5,529.5 780.5,534.5 788.5,532.5 796.5,528.5 804.5,529.5 812.5,525.5 820.5,520.5 828.5,526.5 836.5,528.5 844.5,530.5 852.5,530.5 860.5,525.5 868.5,528.5 876.5,532.5 884.5,535.5 892.5,536.5 900.5,536.5 908.5,537.5 916.5,537.5" fill="none" stroke="#1e90ff" stroke-width="1" shape-rendering="crispEdges"/>
</g>
<rect x="3" y="492" width="1164" height="1" fill="#000"/>
<rect x="3" y="566" width="1164" height="1" fill="#000"/>
<rect x="3" y="492" width="1" height="75" fill="#000"/>
<rect x="1166" y="492" width="1" height="75" fill="#000"/>
<text x="7.26" y="505" font-size="10" fill="#000" stroke="#000" stroke-width="0.1" textLength="68.91" lengthAdjust="spacingAndGlyphs">RSI(14) 39.4685</text>
<text x="1169.44" y="503" font-size="10" fill="#000" stroke="#000" stroke-width="0.1" textLength="16.02" lengthAdjust="spacingAndGlyphs">100</text>
<text x="1168.56" y="519" font-size="10" fill="#000" stroke="#000" stroke-width="0.1" textLength="10.46" lengthAdjust="spacingAndGlyphs">70</text>
<text x="1168.12" y="548" font-size="10" fill="#000" stroke="#000" stroke-width="0.1" textLength="10.90" lengthAdjust="spacingAndGlyphs">30</text>
<text x="1170.10" y="563" font-size="10" fill="#000" stroke="#000" stroke-width="0.1" textLength="5.12" lengthAdjust="spacingAndGlyphs">0</text>
<rect x="1167" y="494" width="1" height="1" fill="#000"/>
<rect x="1167" y="565" width="1" height="1" fill="#000"/>
<rect x="4" y="567" width="1" height="3" fill="#000"/>
<text x="3.00" y="579" font-size="10" fill="#000" stroke="#000" stroke-width="0.1" textLength="48.95" lengthAdjust="spacingAndGlyphs">9 Nov 2021</text>
<rect x="68" y="567" width="1" height="3" fill="#000"/>
<text x="66.02" y="579" font-size="10" fill="#000" stroke="#000" stroke-width="0.1" textLength="55.38" lengthAdjust="spacingAndGlyphs">18 Nov 2021</text>
<rect x="132" y="567" width="1" height="3" fill="#000"/>
<text x="131.00" y="579" font-size="10" fill="#000" stroke="#000" stroke-width="0.1" textLength="54.39" lengthAdjust="spacingAndGlyphs">28 Nov 2021</text>
<rect x="196" y="567" width="1" height="3" fill="#000"/>
<text x="194.07" y="579" font-size="10" fill="#000" stroke="#000" stroke-width="0.1" textLength="47.58" lengthAdjust="spacingAndGlyphs">7 Dec 2021</text>
<rect x="260" y="567" width="1" height="3" fill="#000"/>
<text x="258.07" y="579" font-size="10" fill="#000" stroke="#000" stroke-width="0.1" textLength="52.59" lengthAdjust="spacingAndGlyphs">16 Dec 2021</text>
<rect x="324" y="567" width="1" height="3" fill="#000"/>
<text x="323.00" y="579" font-size="10" fill="#000" stroke="#000" stroke-width="0.1" textLength="51.86" lengthAdjust="spacingAndGlyphs">26 Dec 2021</text>
<rect x="388" y="567" width="1" height="3" fill="#000"/>
<text x="387.00" y="579" font-size="10" fill="#000" stroke="#000" stroke-width="0.1" textLength="44.85" lengthAdjust="spacingAndGlyphs">4 Jan 2022</text>
<rect x="452" y="567" width="1" height="3" fill="#000"/>
<text x="450.09" y="579" font-size="10" fill="#000" stroke="#000" stroke-width="0.1" textLength="50.37" lengthAdjust="spacingAndGlyphs">13 Jan 2022</text>
<rect x="516" y="567" width="1" height="3" fill="#000"/>
<text x="515.00" y="579" font-size="10" fill="#000" stroke="#000" stroke-width="0.1" textLength="49.46" lengthAdjust="spacingAndGlyphs">23 Jan 2022</text>
<rect x="580" y="567" width="1" height="3" fill="#000"/>
<text x="578.05" y="579" font-size="10" fill="#000" stroke="#000" stroke-width="0.1" textLength="47.92" lengthAdjust="spacingAndGlyphs">1 Feb 2022</text>
<rect x="644" y="567" width="1" height="3" fill="#000"/>
<text x="642.05" y="579" font-size="10" fill="#000" stroke="#000" stroke-width="0.1" textLength="53.11" lengthAdjust="spacingAndGlyphs">10 Feb 2022</text>
<rect x="708" y="567" width="1" height="3" fill="#000"/>
<text x="707.00" y="579" font-size="10" fill="#000" stroke="#000" stroke-width="0.1" textLength="51.46" lengthAdjust="spacingAndGlyphs">20 Feb 2022</text>
<rect x="772" y="567" width="1" height="3" fill="#000"/>
<text x="770.05" y="579" font-size="10" fill="#000" stroke="#000" stroke-width="0.1" textLength="48.01" lengthAdjust="spacingAndGlyphs">1 Mar 2022</text>
<rect x="836" y="567" width="1" height="3" fill="#000"/>
<text x="834.06" y="579" font-size="10" fill="#000" stroke="#000" stroke-width="0.1" textLength="52.89" lengthAdjust="spacingAndGlyphs">10 Mar 2022</text>
<rect x="900" y="567" width="1" height="3" fill="#000"/>
<text x="899.00" y="579" font-size="10" fill="#000" stroke="#000" stroke-width="0.1" textLength="51.34" lengthAdjust="spacingAndGlyphs">20 Mar 2022</text>
<rect x="0" y="587" width="1205" height="1" fill="#e3e3e3"/>
<rect x="0" y="589" width="1205" height="1" fill="#000"/>
<rect x="0" y="590" width="1205" height="19" fill="#f0f0f0"/>
<rect x="0" y="610" width="1205" height="3" fill="#f0f0f0"/>
<rect x="0" y="589" width="1" height="18" fill="#404040"/>
<text x="15.38" y="604" font-size="12.3" fill="#6d6d6d" stroke="#6d6d6d" stroke-width="0.0" textLength="78.91" lengthAdjust="spacingAndGlyphs">USDX,Weekly</text>
<rect x="105" y="592" width="1" height="15" fill="#696969"/>
<text x="115.40" y="604" font-size="12.3" fill="#6d6d6d" stroke="#6d6d6d" stroke-width="0.0" textLength="86.37" lengthAdjust="spacingAndGlyphs">EURUSD-,Daily</text>
<rect x="213" y="592" width="1" height="15" fill="#696969"/>
<text x="223.30" y="604" font-size="12.3" fill="#6d6d6d" stroke="#6d6d6d" stroke-width="0.0" textLength="87.69" lengthAdjust="spacingAndGlyphs">AUDUSD-,Daily</text>
<rect x="321" y="592" width="1" height="15" fill="#696969"/>
<text x="332.62" y="604" font-size="12.3" fill="#6d6d6d" stroke="#6d6d6d" stroke-width="0.0" textLength="84.37" lengthAdjust="spacingAndGlyphs">USDCHF-,Daily</text>
<text x="548.18" y="604" font-size="12.3" fill="#6d6d6d" stroke="#6d6d6d" stroke-width="0.0" textLength="88.98" lengthAdjust="spacingAndGlyphs">USDCNH-,Daily</text>
<rect x="649" y="592" width="1" height="15" fill="#696969"/>
<text x="659.40" y="604" font-size="12.3" fill="#6d6d6d" stroke="#6d6d6d" stroke-width="0.0" textLength="74.28" lengthAdjust="spacingAndGlyphs">XAUUSD-,H1</text>
<rect x="745" y="592" width="1" height="15" fill="#696969"/>
<text x="754.64" y="604" font-size="12.3" fill="#6d6d6d" stroke="#6d6d6d" stroke-width="0.0" textLength="67.13" lengthAdjust="spacingAndGlyphs">UKOil-,M15</text>
<rect x="833" y="592" width="1" height="15" fill="#696969"/>
<text x="844.07" y="604" font-size="12.3" fill="#6d6d6d" stroke="#6d6d6d" stroke-width="0.0" textLength="65.61" lengthAdjust="spacingAndGlyphs">DJ30-,Daily</text>
<rect x="921" y="592" width="1" height="15" fill="#696969"/>
<text x="931.46" y="604" font-size="12.3" fill="#6d6d6d" stroke="#6d6d6d" stroke-width="0.0" textLength="63.22" lengthAdjust="spacingAndGlyphs">UK100-,H1</text>
<rect x="1005" y="592" width="1" height="15" fill="#696969"/>
<text x="1016.17" y="604" font-size="12.3" fill="#6d6d6d" stroke="#6d6d6d" stroke-width="0.0" textLength="56.98" lengthAdjust="spacingAndGlyphs">USOil-,H4</text>
<rect x="1085" y="592" width="1" height="15" fill="#696969"/>
<text x="1094.36" y="604" font-size="12.3" fill="#6d6d6d" stroke="#6d6d6d" stroke-width="0.0" textLength="67.97" lengthAdjust="spacingAndGlyphs">HK50-,Daily</text>
<rect x="1173" y="592" width="1" height="15" fill="#696969"/>
<rect x="429" y="589" width="108" height="18" fill="#fff"/>
<rect x="429" y="589" width="1" height="19" fill="#000"/>
<rect x="536" y="589" width="1" height="19" fill="#000"/>
<rect x="429" y="607" width="108" height="1" fill="#000"/>
<text x="439.29" y="604" font-size="12.3" fill="#000" stroke="#000" stroke-width="0.0" textLength="87.60" lengthAdjust="spacingAndGlyphs">USDCAD-,Daily</text>
<path d="M1185 595 L1185 602 L1182 598.5 Z" fill="#a0a0a0"/>
<path d="M1201 595 L1201 602 L1204.5 598.5 Z" fill="#a0a0a0"/>
</svg></body></html>
